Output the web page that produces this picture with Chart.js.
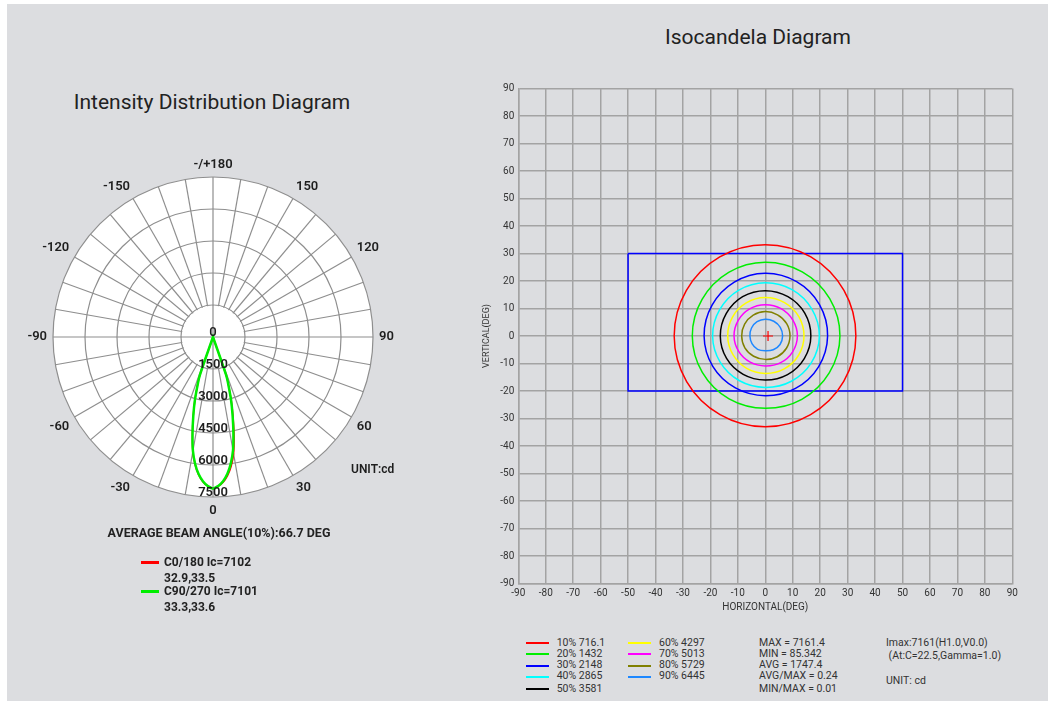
<!DOCTYPE html>
<html><head><meta charset="utf-8">
<script src="https://cdn.jsdelivr.net/npm/chart.js@4.4.0/dist/chart.umd.min.js"></script>
<style>
html,body{margin:0;padding:0;background:#fff;width:1053px;height:704px;overflow:hidden;font-family:Roboto,"Liberation Sans",sans-serif;color:#222}
#panel{position:absolute;left:7px;top:4px;width:1041px;height:697px;background:#dcdde0}
.abs{position:absolute;white-space:pre}
.c{transform:translate(-50%,-50%)}
.m{transform:translateY(-50%)}
.title{font-size:21px;color:#222}
.pl{font-size:12px;font-weight:bold;color:#222}
.pb{font-size:12.5px;font-weight:bold;color:#222}
.il{font-size:10.5px;color:#333}
.sw{position:absolute}
canvas{position:absolute}
</style></head><body>
<div id="panel"></div>
<div class="abs c title" style="left:212px;top:102px">Intensity Distribution Diagram</div>
<div class="abs c title" style="left:758px;top:37px">Isocandela Diagram</div>
<canvas id="polar" width="400" height="400" style="left:13px;top:137px;width:400px;height:400px"></canvas>
<canvas id="iso" width="580" height="570" style="left:460px;top:60px;width:580px;height:570px"></canvas>
<div id="legends"></div>
<script>
// ---------- Polar (intensity distribution) data ----------
const polarTicks = [0, 1500, 3000, 4500, 6000, 7500];
const angleLabels = [180, 150, 120, 90, 60, 30, 0, -30, -60, -90, -120, -150];
const gammaDeg = [0, 2, 4, 6, 8, 10, 12, 14, 16, 18, 19, 20];
const c0Right  = [7102, 7010, 6830, 6540, 6120, 5560, 4760, 3900, 3120, 2320, 1910, 0];
const c0Left   = [7102, 7000, 6800, 6490, 6040, 5450, 4640, 3830, 3090, 2300, 1900, 0];
const c90Right = [7101, 6990, 6780, 6450, 5990, 5400, 4600, 3800, 3070, 2290, 1890, 0];
const c90Left  = [7101, 6990, 6780, 6460, 6010, 5420, 4620, 3820, 3080, 2290, 1890, 0];
const polarSeriesNames = ['C0/180 Ic=7102', 'C90/270 Ic=7101'];
const polarSeriesSub = ['32.9,33.5', '33.3,33.6'];
const polarColors = ['#ff0000', '#00ee00'];
const beamText = 'AVERAGE BEAM ANGLE(10%):66.7 DEG';

// ---------- Isocandela data ----------
const isoTicks = {min: -90, max: 90, step: 10};
const contourAngles = [0, 30, 60, 90, 120, 150, 180, 210, 240, 270, 300, 330];
const r10 = [33.0, 33.1, 33.2, 33.2, 33.2, 33.2, 33.2, 33.1, 33.0, 33.0, 33.0, 33.0];
const r20 = [27.2, 27.1, 26.9, 26.8, 26.7, 26.6, 26.6, 26.5, 26.4, 26.3, 26.6, 26.9];
const r30 = [22.7, 22.8, 22.8, 22.8, 22.6, 22.4, 22.3, 22.1, 21.8, 21.7, 22.0, 22.4];
const r40 = [19.7, 19.6, 19.5, 19.4, 19.3, 19.2, 19.2, 19.0, 18.8, 18.7, 19.0, 19.4];
const r50 = [16.6, 16.6, 16.5, 16.5, 16.5, 16.4, 16.4, 16.3, 16.1, 16.0, 16.2, 16.4];
const r60 = [14.1, 14.1, 14.0, 14.0, 13.9, 13.8, 13.7, 13.6, 13.6, 13.6, 13.8, 14.0];
const r70 = [11.7, 11.6, 11.5, 11.4, 11.4, 11.4, 11.4, 11.2, 11.0, 10.9, 11.2, 11.5];
const r80 = [9.0, 9.0, 8.9, 8.9, 8.8, 8.7, 8.6, 8.6, 8.5, 8.5, 8.7, 8.9];
const r90 = [6.3, 6.3, 6.2, 6.1, 6.0, 5.8, 5.6, 5.6, 5.6, 5.4, 5.8, 6.2];
const contourRadii = [r10, r20, r30, r40, r50, r60, r70, r80, r90];
const contourLabels = ['10% 716.1', '20% 1432', '30% 2148', '40% 2865', '50% 3581', '60% 4297', '70% 5013', '80% 5729', '90% 6445'];
const contourColors = ['#ff0000', '#00ee00', '#0000ff', '#00ffff', '#000000', '#ffff00', '#ff00ff', '#808000', '#1e88ff'];
const rectX = [-50, 50, 50, -50, -50];
const rectY = [30, 30, -20, -20, 30];
const imaxPoint = {x: 1.0, y: 0.0};
const statLines = ['MAX = 7161.4', 'MIN = 85.342', 'AVG = 1747.4', 'AVG/MAX = 0.24', 'MIN/MAX = 0.01'];
const infoLines = ['Imax:7161(H1.0,V0.0)', ' (At:C=22.5,Gamma=1.0)', '', 'UNIT: cd'];

const gridGray = '#8e8e8e';

// ---------- Build polar chart ----------
const N = 360;
const radarLabels = Array.from({length: N}, (_, k) => String(k <= 180 ? 180 - k : -(k - 180)));
function buildLobe(right, left) {
  const d = new Array(N).fill(null);
  gammaDeg.forEach((g, i) => { d[180 - g] = right[i]; d[180 + g] = left[i]; });
  return d;
}
const polarDecor = {
  id: 'polarDecor',
  beforeDatasetsDraw(chart) {
    const s = chart.scales.r, ctx = chart.ctx;
    const r1 = s.getDistanceFromCenterForValue(polarTicks[1]);
    ctx.save();
    ctx.fillStyle = '#fff';
    ctx.beginPath(); ctx.arc(s.xCenter, s.yCenter, r1 - 0.8, 0, Math.PI * 2); ctx.fill();
    ctx.strokeStyle = gridGray; ctx.lineWidth = 1.2;
    ctx.beginPath();
    ctx.moveTo(s.xCenter - r1, s.yCenter); ctx.lineTo(s.xCenter + r1, s.yCenter);
    ctx.moveTo(s.xCenter, s.yCenter - r1); ctx.lineTo(s.xCenter, s.yCenter + r1);
    ctx.stroke();
    ctx.restore();
  },
  afterDatasetsDraw(chart) {
    const s = chart.scales.r, ctx = chart.ctx;
    ctx.save();
    ctx.fillStyle = '#1e1e1e';
    ctx.font = '600 13px Roboto, "Liberation Sans", sans-serif';
    ctx.textAlign = 'center'; ctx.textBaseline = 'middle';
    polarTicks.forEach(v => {
      ctx.fillText(String(v), s.xCenter, s.yCenter + s.getDistanceFromCenterForValue(v) - 4.5);
    });
    const outer = s.getDistanceFromCenterForValue(polarTicks[polarTicks.length - 1]) + 6;
    angleLabels.forEach(L => {
      const idx = 180 - L;
      const p = s.getPointPosition(idx, outer);
      const a = idx;
      ctx.textAlign = (a === 0 || a === 180) ? 'center' : (a < 180 ? 'left' : 'right');
      ctx.textBaseline = (a === 90 || a === 270) ? 'middle' : ((a < 90 || a > 270) ? 'bottom' : 'top');
      ctx.fillText(L === 180 ? '-/+180' : String(L), p.x, p.y + (a === 180 ? 1.5 : 0));
    });
    ctx.font = '600 12px Roboto, "Liberation Sans", sans-serif';
    ctx.textAlign = 'left'; ctx.textBaseline = 'middle';
    ctx.fillText('UNIT:cd', 338, 333);
    ctx.restore();
  }
};
new Chart(document.getElementById('polar'), {
  type: 'radar',
  data: {
    labels: radarLabels,
    datasets: [
      {data: buildLobe(c90Right, c90Left), borderColor: polarColors[1], borderWidth: 2.5},
      {data: buildLobe(c0Right, c0Left), borderColor: polarColors[0], borderWidth: 1.5}
    ]
  },
  options: {
    responsive: false, animation: false,
    layout: {padding: 40},
    plugins: {legend: {display: false}, tooltip: {enabled: false}},
    elements: {point: {radius: 0}, line: {tension: 0.35, fill: false}},
    datasets: {radar: {spanGaps: true}},
    scales: {r: {
      min: 0, max: 7500, startAngle: 0, backgroundColor: '#fff',
      ticks: {display: false, stepSize: 1500},
      pointLabels: {display: false},
      grid: {circular: true, color: gridGray, lineWidth: 1.2},
      angleLines: {
        color: c => c.index % 10 === 0 ? gridGray : 'rgba(0,0,0,0)',
        lineWidth: c => c.index % 10 === 0 ? 1.2 : 0
      }
    }}
  },
  plugins: [polarDecor]
});

// ---------- Build isocandela chart ----------
function contourPoints(radii) {
  const n = contourAngles.length;
  const pts = [];
  for (let j = -1; j <= n + 1; j++) {
    const i = ((j % n) + n) % n;
    const a = contourAngles[i] * Math.PI / 180;
    pts.push({x: radii[i] * Math.cos(a), y: radii[i] * Math.sin(a)});
  }
  return pts;
}
const isoDatasets = contourRadii.map((rr, k) => {
  const pts = contourPoints(rr);
  const last = pts.length - 1;
  return {
    data: pts, borderColor: contourColors[k], borderWidth: 1.5, showLine: true, pointRadius: 0,
    tension: 0.36, fill: false,
    segment: {borderColor: c => (c.p0DataIndex === 0 || c.p1DataIndex === last) ? 'rgba(0,0,0,0)' : undefined}
  };
});
isoDatasets.push({
  data: rectX.map((x, i) => ({x, y: rectY[i]})), borderColor: '#0000ff', borderWidth: 1.5,
  showLine: true, pointRadius: 0, tension: 0, fill: false
});
isoDatasets.push({
  data: [imaxPoint], borderColor: '#ff0000', pointStyle: 'cross', pointRadius: 5, pointBorderWidth: 1.2, showLine: false
});
const axisFont = {family: 'Roboto, "Liberation Sans", sans-serif', size: 10};
new Chart(document.getElementById('iso'), {
  type: 'scatter',
  data: {datasets: isoDatasets},
  options: {
    responsive: false, animation: false,
    layout: {padding: {left: 0, top: 28.5, right: 27.7, bottom: 0}},
    plugins: {legend: {display: false}, tooltip: {enabled: false}},
    scales: {
      x: {
        type: 'linear', min: isoTicks.min, max: isoTicks.max,
        ticks: {stepSize: isoTicks.step, color: '#333', font: axisFont, padding: 4, maxRotation: 0, autoSkip: false},
        grid: {color: '#a3a3a3', lineWidth: 1.5, drawTicks: false},
        border: {color: '#a3a3a3', width: 1.5},
        title: {display: true, text: 'HORIZONTAL(DEG)', color: '#333', font: axisFont, padding: {top: 0, bottom: 17}},
        afterFit: s => { s.height = 46.5; }
      },
      y: {
        type: 'linear', min: isoTicks.min, max: isoTicks.max,
        ticks: {stepSize: isoTicks.step, color: '#333', font: axisFont, padding: 4, autoSkip: false},
        grid: {color: '#a3a3a3', lineWidth: 1.5, drawTicks: false},
        border: {color: '#a3a3a3', width: 1.5},
        title: {display: true, text: 'VERTICAL(DEG)', color: '#333', font: {family: axisFont.family, size: 9}, padding: {top: 21.5, bottom: 0}},
        afterFit: s => { s.width = 58.3; }
      }
    }
  }
});

// ---------- HTML legends ----------
const L = document.getElementById('legends');
function addText(txt, x, y, cls, center) {
  const d = document.createElement('div');
  d.className = 'abs ' + cls + (center ? ' c' : ' m');
  d.style.left = x + 'px'; d.style.top = y + 'px';
  d.textContent = txt;
  L.appendChild(d);
}
function addSwatch(color, x, y, w, h) {
  const d = document.createElement('div');
  d.className = 'sw';
  d.style.left = Math.round(x) + 'px'; d.style.top = Math.round(y - h / 2) + 'px';
  d.style.width = w + 'px'; d.style.height = h + 'px'; d.style.background = color;
  L.appendChild(d);
}
addText(beamText, 219, 531.5, 'pb', true);
polarSeriesNames.forEach((nm, i) => {
  const y = 562 + i * 29;
  addSwatch(polarColors[i], 141, y, 18, 3);
  addText(nm, 164, y, 'pl', false);
  addText(polarSeriesSub[i], 164, y + 15.7, 'pl', false);
});
const rowY = [641.7, 652.8, 664, 675.2, 687.7];
const swY = [643, 654, 666, 677, 689];
contourLabels.forEach((lab, i) => {
  const col = i < 5 ? 0 : 1, row = i < 5 ? i : i - 5;
  const sx = col === 0 ? 526 : 628, tx = col === 0 ? 556.7 : 659;
  addSwatch(contourColors[i], sx, swY[row], 23, 2);
  addText(lab, tx, rowY[row], 'il', false);
});
statLines.forEach((s, i) => addText(s, 759, rowY[i], 'il', false));
const infoY = [641.7, 655, 667, 680];
infoLines.forEach((s, i) => { if (s.trim()) addText(s, 886, infoY[i], 'il', false); });
</script>
</body></html>
